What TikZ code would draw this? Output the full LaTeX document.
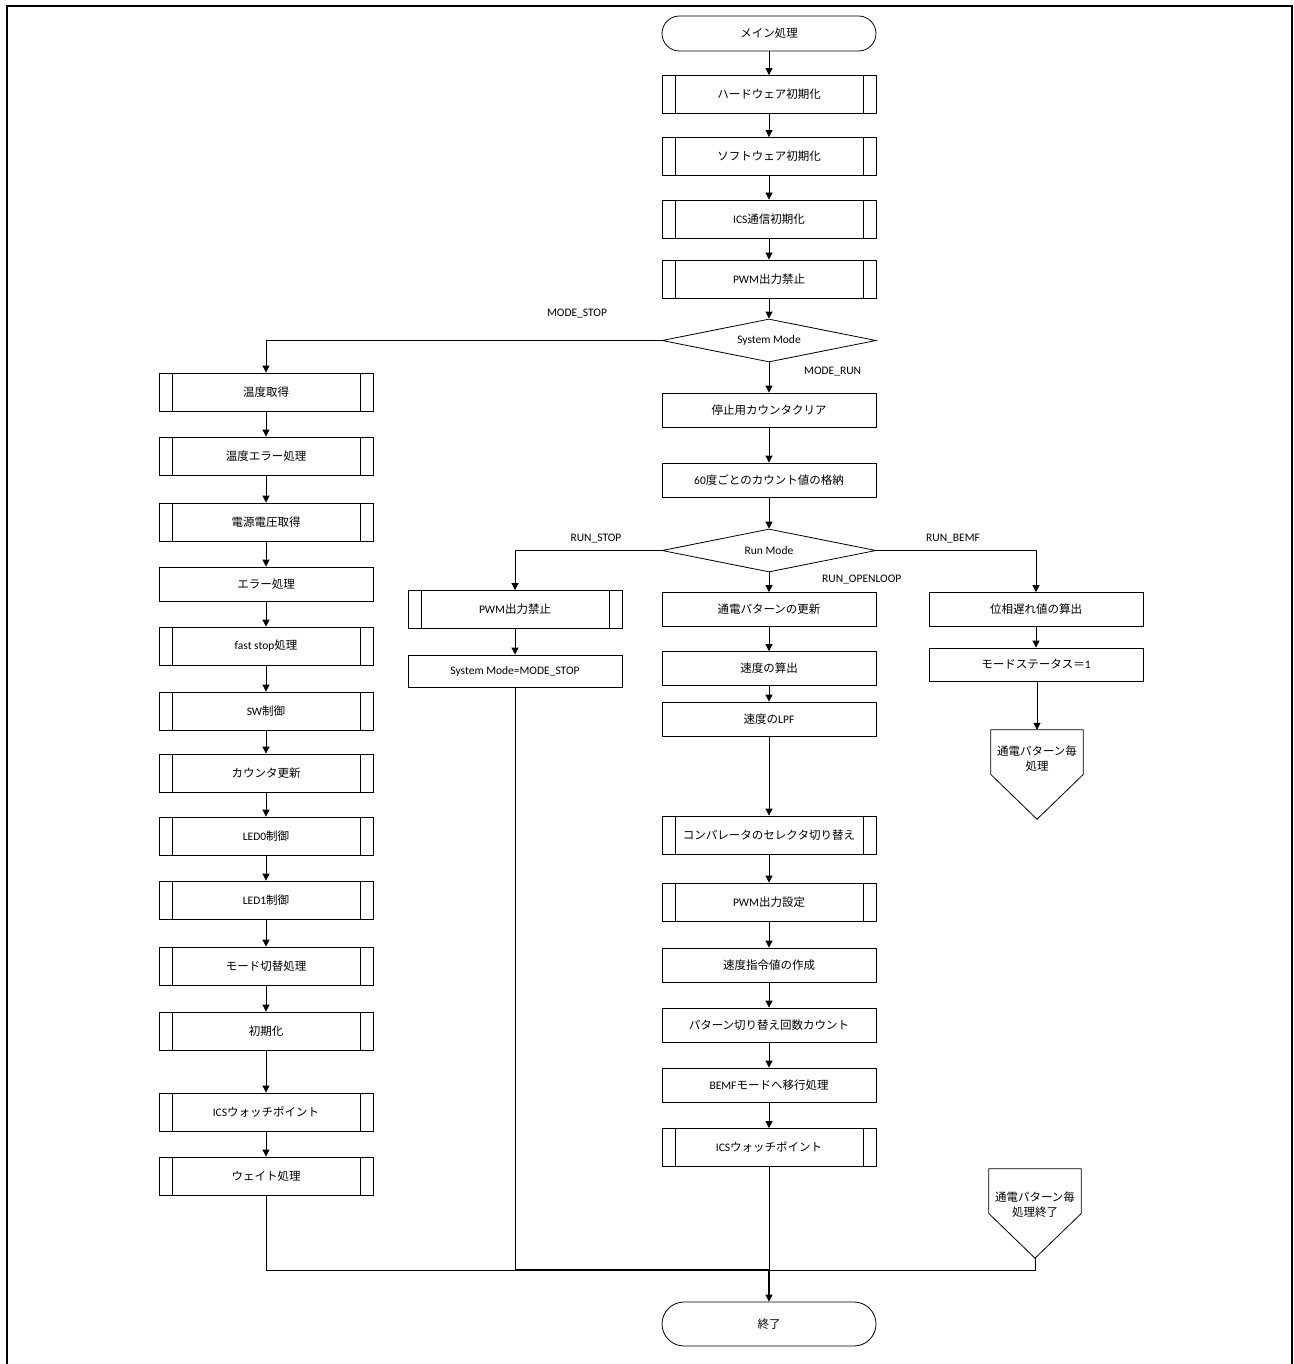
\documentclass[tikz,border=0pt]{standalone}
\usepackage{fontspec}
\setmainfont{Carlito}
\newfontfamily\jpf{Noto Sans CJK JP}
\usetikzlibrary{arrows.meta,shapes.geometric,shapes.misc}
\newcommand\J[1]{{\jpf\fontsize{11.5}{14}\selectfont #1}}

\tikzset{
  shapeline/.style={line width=0.8pt},
  base/.style={draw, shapeline, minimum width=214pt, inner sep=0pt,
    align=center, font=\fontsize{11.5}{13}\selectfont},
  proc/.style={base, rectangle, minimum height=34pt},
  pred/.style={base, rectangle, minimum height=38pt,
    path picture={
      \draw[shapeline] ([xshift=13pt]path picture bounding box.north west)
        -- ([xshift=13pt]path picture bounding box.south west);
      \draw[shapeline] ([xshift=-13pt]path picture bounding box.north east)
        -- ([xshift=-13pt]path picture bounding box.south east);}},
  term/.style={base, rounded rectangle, minimum height=35pt},
  decision/.style={base, diamond, aspect=5, minimum height=43pt},
  offpage/.style={minimum width=92pt, minimum height=89pt, inner sep=0pt},
  octext/.style={align=center, inner sep=0pt, font=\fontsize{11}{15}\selectfont},
  lbl/.style={inner sep=0pt, font=\fontsize{11.5}{13}\selectfont},
  conn/.style={shapeline, -{Triangle[length=7pt,width=7pt]}},
  wire/.style={shapeline},
  heavywire/.style={line width=1.3pt},
}

\begin{document}
\begin{tikzpicture}[x=1pt, y=-1pt]
\useasboundingbox (0,0) rectangle (1293,1364);
% page frame
\draw[line width=1.5pt] (7,1370) -- (7,6) -- (1292,6) -- (1292,1370);

% main column
\node[term] (start) at (769,33.5) {\J{メイン処理}};
\node[pred] (hw)   at (769,94.5)  {\J{ハードウェア初期化}};
\node[pred] (swi)  at (769,156.5) {\J{ソフトウェア初期化}};
\node[pred] (icsi) at (769,219)   {ICS\J{通信初期化}};
\node[pred] (pwm0) at (769,279)   {PWM\J{出力禁止}};
\node[decision] (sys) at (769,340.5) {System Mode};
\node[proc] (clr)  at (769,410)   {\J{停止用カウンタクリア}};
\node[proc] (c60)  at (769,480)   {60\J{度ごとのカウント値の格納}};
\node[decision] (run) at (769,550.5) {Run Mode};
\node[proc] (pat)  at (769,609.5) {\J{通電パターンの更新}};
\node[proc] (spd)  at (769,668.5) {\J{速度の算出}};
\node[proc] (lpf)  at (769,719)   {\J{速度の}LPF};
\node[pred] (cmp)  at (769,835)   {\J{コンパレータのセレクタ切り替え}};
\node[pred] (pwms) at (769,902)   {PWM\J{出力設定}};
\node[proc] (ref)  at (769,965)   {\J{速度指令値の作成}};
\node[proc] (pcnt) at (769,1025)  {\J{パターン切り替え回数カウント}};
\node[proc] (bemf) at (769,1085)  {BEMF\J{モードへ移行処理}};
\node[pred] (wpm)  at (769,1147.5){ICS\J{ウォッチポイント}};
\node[term, minimum height=44pt] (fin) at (769,1324) {\J{終了}};

% MODE_STOP column
\node[pred] (tmp)  at (266,392)  {\J{温度取得}};
\node[pred] (terr) at (266,456)  {\J{温度エラー処理}};
\node[pred] (vlt)  at (266,522)  {\J{電源電圧取得}};
\node[proc] (err)  at (266,584)  {\J{エラー処理}};
\node[pred] (fst)  at (266,646)  {fast stop\J{処理}};
\node[pred] (swc)  at (266,711)  {SW\J{制御}};
\node[pred] (cnt)  at (266,773)  {\J{カウンタ更新}};
\node[pred] (ld0)  at (266,836)  {LED0\J{制御}};
\node[pred] (ld1)  at (266,900)  {LED1\J{制御}};
\node[pred] (mch)  at (266,966)  {\J{モード切替処理}};
\node[pred] (ini)  at (266,1031) {\J{初期化}};
\node[pred] (lwp)  at (266,1112) {ICS\J{ウォッチポイント}};
\node[pred] (wt)   at (266,1176) {\J{ウェイト処理}};

% RUN_STOP column
\node[pred] (pwm1) at (515,609.5) {PWM\J{出力禁止}};
\node[proc, minimum height=32pt] (sst) at (515,671) {System Mode=MODE\_STOP};

% RUN_BEMF column
\node[proc] (phs) at (1036,609.5) {\J{位相遅れ値の算出}};
\node[proc, minimum height=33pt] (mst) at (1036,664.5) {\J{モードステータス＝}1};

% off-page connectors
\node[offpage] (oc1) at (1037,774.5) {};
\draw[shapeline] (oc1.north west) -- (oc1.north east) -- (oc1.east)
  -- (oc1.south) -- (oc1.west) -- cycle;
\node[octext] (oc1t) at ([yshift=-29pt]oc1.north) {\J{通電パターン毎}\\\J{処理}};
\node[offpage] (oc2) at (1035,1213.5) {};
\draw[shapeline] (oc2.north west) -- (oc2.north east) -- (oc2.east)
  -- (oc2.south) -- (oc2.west) -- cycle;
\node[octext] (oc2t) at ([yshift=-36pt]oc2.north) {\J{通電パターン毎}\\\J{処理終了}};

% branch labels
\node[lbl] (lms) at (577,314) {MODE\_STOP};
\node[lbl, anchor=west] (lmr) at (804,372) {MODE\_RUN};
\node[lbl] (lrs) at (596,539) {RUN\_STOP};
\node[lbl, anchor=west] (lro) at (822,580) {RUN\_OPENLOOP};
\node[lbl] (lrb) at (953,539) {RUN\_BEMF};

% merge point
\coordinate (mrg) at (769,1270);

% connectors: main column
\foreach \a/\b in {start/hw, hw/swi, swi/icsi, icsi/pwm0, pwm0/sys, sys/clr,
  clr/c60, c60/run, run/pat, pat/spd, spd/lpf, lpf/cmp, cmp/pwms, pwms/ref,
  ref/pcnt, pcnt/bemf, bemf/wpm}
  \draw[conn] (\a.south) -- (\b.north);
\draw[conn] (wpm.south) -- (fin.north);
\draw[heavywire] (mrg) -- ([yshift=7pt]fin.north);

% connectors: MODE_STOP column
\draw[conn] (sys.west) -| (tmp.north);
\foreach \a/\b in {tmp/terr, terr/vlt, vlt/err, err/fst, fst/swc, swc/cnt,
  cnt/ld0, ld0/ld1, ld1/mch, mch/ini, ini/lwp, lwp/wt}
  \draw[conn] (\a.south) -- (\b.north);

% connectors: Run Mode branches
\draw[conn] (run.west) -| (pwm1.north);
\draw[conn] (pwm1.south) -- (sst.north);
\draw[conn] (run.east) -| (phs.north);
\draw[conn] (phs.south) -- (mst.north);
\draw[conn] (mst.south -| oc1.north) -- (oc1.north);

% merge line
\draw[wire] (wt.south) |- (oc2.south |- mrg) -- (oc2.south);
\draw[wire] (sst.south) -- (sst.south |- mrg);
\draw[heavywire] (sst.south |- mrg) -- (mrg);
\end{tikzpicture}
\end{document}
